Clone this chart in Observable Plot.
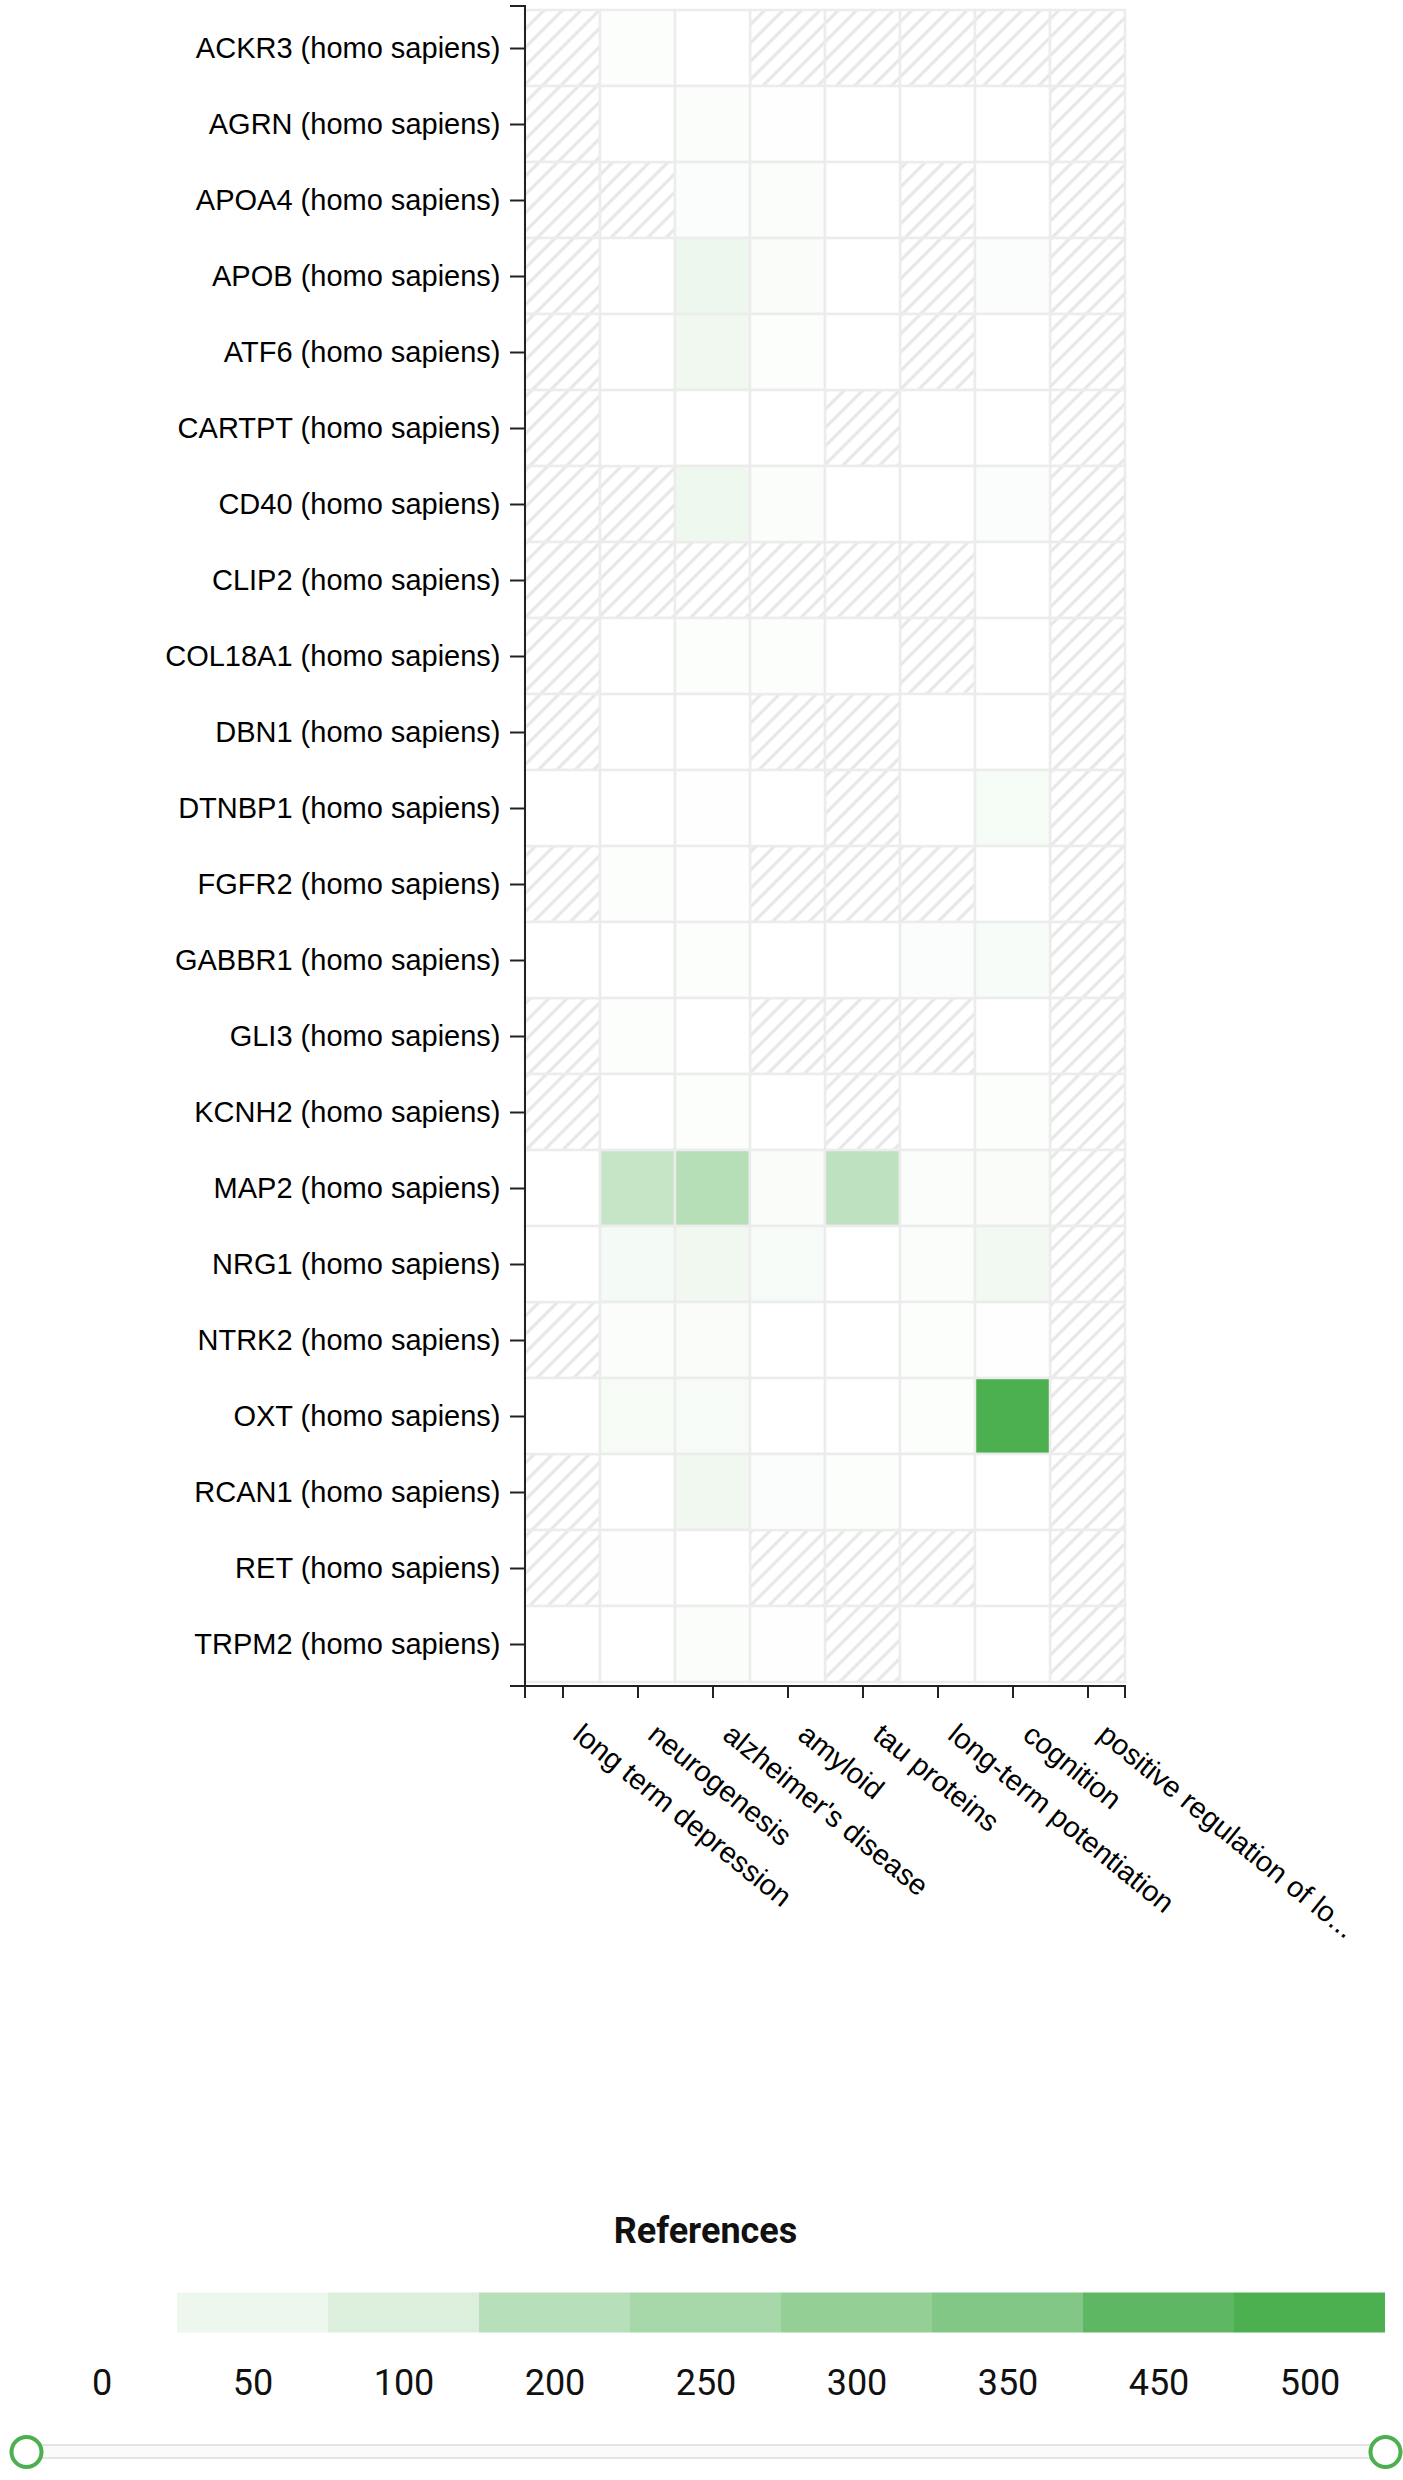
<!DOCTYPE html>
<html>
<head>
<meta charset="utf-8">
<script src="https://cdn.jsdelivr.net/npm/d3@7"></script>
<script src="https://cdn.jsdelivr.net/npm/@observablehq/plot@0.6"></script>
<style>
  html, body { margin: 0; padding: 0; background: #fff; }
  svg { display: block; }
  #legend-title {
    margin: 250px 0 0 26px; width: 1359px; text-align: center;
    font: bold 36px Roboto, "Noto Sans", sans-serif; line-height: 43px; color: #111;
  }
</style>
</head>
<body>
<div id="chart"></div>
<div id="legend-title">References</div>
<div id="legend"></div>
<script>
// ---- data ----
const genes = [
  "ACKR3 (homo sapiens)", "AGRN (homo sapiens)", "APOA4 (homo sapiens)", "APOB (homo sapiens)",
  "ATF6 (homo sapiens)", "CARTPT (homo sapiens)", "CD40 (homo sapiens)", "CLIP2 (homo sapiens)",
  "COL18A1 (homo sapiens)", "DBN1 (homo sapiens)", "DTNBP1 (homo sapiens)", "FGFR2 (homo sapiens)",
  "GABBR1 (homo sapiens)", "GLI3 (homo sapiens)", "KCNH2 (homo sapiens)", "MAP2 (homo sapiens)",
  "NRG1 (homo sapiens)", "NTRK2 (homo sapiens)", "OXT (homo sapiens)", "RCAN1 (homo sapiens)",
  "RET (homo sapiens)", "TRPM2 (homo sapiens)"
];
const terms = [
  "long term depression", "neurogenesis", "alzheimer's disease", "amyloid",
  "tau proteins", "long-term potentiation", "cognition", "positive regulation of lo..."
];
// one series per term, in gene order (null = no data, hatched)
const longTermDepression = [null,null,null,null,null,null,null,null,null,null,0,null,0,null,null,0,0,null,0,null,null,0];
const neurogenesis       = [8,0,null,2,0,0,null,null,0,0,2,8,0,8,0,160,30,14,25,0,6,0];
const alzheimersDisease  = [0,12,10,48,42,0,45,null,8,0,5,6,8,0,8,205,42,16,22,42,0,14];
const amyloid            = [null,6,14,18,8,0,14,null,8,null,0,null,0,null,0,18,22,0,2,10,null,6];
const tauProteins        = [null,0,0,2,0,null,0,null,0,null,null,null,0,null,null,182,0,0,0,8,null,null];
const longTermPotentiation = [null,0,null,null,null,0,0,null,null,2,0,null,10,null,0,12,12,8,8,0,null,0];
const cognition          = [null,0,0,10,0,0,10,2,0,0,28,0,20,0,8,16,35,6,512,0,0,2];
const positiveRegulation = [null,null,null,null,null,null,null,null,null,null,null,null,null,null,null,null,null,null,null,null,null,null];
const series = [longTermDepression, neurogenesis, alzheimersDisease, amyloid,
                tauProteins, longTermPotentiation, cognition, positiveRegulation];

const legendValues = [0, 50, 100, 200, 250, 300, 350, 450, 500];
const sliderRange = [0, legendValues.length];

// ---- table for Plot ----
const table = [];
terms.forEach((term, j) => genes.forEach((gene, i) => table.push({gene, term, value: series[j][i]})));

const color = {type: "linear", domain: [0, 500], range: ["#ffffff", "#4caf50"], interpolate: "rgb", clamp: true};

function hatchDefs() {
  const defs = d3.create("svg:defs");
  const p = defs.append("pattern").attr("id", "hatch")
    .attr("patternUnits", "userSpaceOnUse").attr("width", 13).attr("height", 13)
    .attr("patternTransform", "rotate(45)");
  p.append("rect").attr("width", 13).attr("height", 13).attr("fill", "#fff");
  p.append("line").attr("x1", 2).attr("y1", 0).attr("x2", 2).attr("y2", 13)
    .attr("stroke", "#e6e6e6").attr("stroke-width", 3);
  return defs.node();
}

function axisDomains(index, scales, values, dims) {
  const {width, height, marginLeft, marginRight, marginTop, marginBottom} = dims;
  const x0 = marginLeft, x1 = width - marginRight, y0 = marginTop, y1 = height - marginBottom;
  const g = d3.create("svg:g").attr("fill", "none").attr("stroke", "#222").attr("stroke-width", 2);
  g.append("path").attr("d", `M${x0 - 15},${y0}H${x0}V${y1}H${x0 - 15}`);
  g.append("path").attr("d", `M${x0},${y1 + 12}V${y1}H${x1}V${y1 + 12}`);
  return g.node();
}

const chart = Plot.plot({
  width: 1403, height: 1960,
  marginTop: 6, marginBottom: 274, marginLeft: 525, marginRight: 278,
  style: {fontFamily: "'Liberation Sans', Arial, sans-serif", fontSize: "29px", color: "#000", background: "#fff"},
  x: {type: "band", domain: terms, padding: 0, axis: null},
  y: {type: "band", domain: genes, padding: 0, axis: null},
  color,
  marks: [
    hatchDefs,
    Plot.cell(table.filter(d => d.value == null), {x: "term", y: "gene", fill: "url(#hatch)", stroke: "#ececec", strokeWidth: 2.5}),
    Plot.cell(table.filter(d => d.value != null), {x: "term", y: "gene", fill: "value", stroke: "#ececec", strokeWidth: 2.5}),
    Plot.axisY({tickSize: 15, tickPadding: 10, label: null, stroke: "#222", strokeWidth: 2, fontSize: 29}),
    // tick marks only
    Plot.axisX({tickSize: 12, tickFormat: () => "", label: null, stroke: "#222", strokeWidth: 2}),
    // rotated tick labels
    Plot.axisX({tickSize: 0, tickPadding: 38, tickRotate: 39, dx: 14, dy: 6, label: null, fontSize: 29}),
    axisDomains
  ]
});
document.getElementById("chart").appendChild(chart);

const legend = Plot.plot({
  width: 1403, height: 226,
  marginTop: 0, marginBottom: 0, marginLeft: 26, marginRight: 18,
  style: {fontFamily: "Roboto, 'Noto Sans', sans-serif", fontSize: "36px", color: "#111", background: "#fff"},
  x: {type: "linear", domain: [0, legendValues.length], axis: null},
  color,
  marks: [
    Plot.rect(legendValues, {x1: (d, i) => i, x2: (d, i) => i + 1, fill: d => d, insetTop: 39.5, insetBottom: 146.5}),
    Plot.text(legendValues, {x: (d, i) => i + 0.5, text: d => String(d), frameAnchor: "top", dy: 116, fontSize: 36, fill: "#111"}),
    Plot.rect([sliderRange], {x1: d => d[0], x2: d => d[1], insetTop: 192, insetBottom: 21, fill: "#fafafa", stroke: "#e4e4e4", strokeWidth: 2, rx: 6}),
    Plot.dot(sliderRange, {x: d => d, frameAnchor: "top", dy: 198.5, r: 15, stroke: "#4caf50", strokeWidth: 4, fill: "#fff"})
  ]
});
document.getElementById("legend").appendChild(legend);
</script>
</body>
</html>
